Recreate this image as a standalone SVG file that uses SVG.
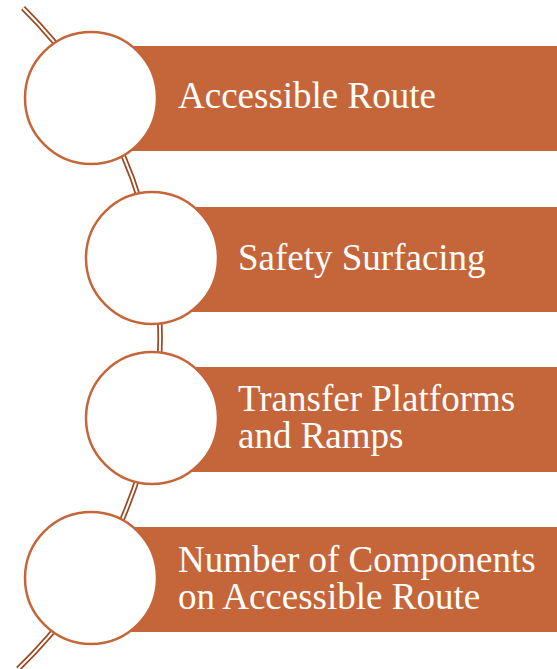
<svg xmlns="http://www.w3.org/2000/svg" width="557" height="669" viewBox="0 0 557 669">
<style>
.bar{fill:#C5663A}
.ring{fill:#FFFFFF;stroke:#C5663A;stroke-width:2.5}
.lbl{font-family:"Liberation Serif","Times New Roman",serif;font-size:37px;fill:#FFFFFF}
</style>
<rect width="557" height="669" fill="#FFFFFF"/>
<g id="connectors">
<path d="M23 8 A461 461 0 0 1 18 669" fill="none" stroke="#9C4A25" stroke-width="5.5"/>
<path d="M23 8 A461 461 0 0 1 18 669" fill="none" stroke="#FFFFFF" stroke-width="2"/>
</g>
<g id="node1">
<rect class="bar" x="91" y="46" width="466" height="105"/>
<circle class="ring" cx="91" cy="98" r="66"/>
<text class="lbl" x="178" y="108">Accessible Route</text>
</g>
<g id="node2">
<rect class="bar" x="152" y="207" width="405" height="105"/>
<circle class="ring" cx="152" cy="258" r="66"/>
<text class="lbl" x="238" y="270">Safety Surfacing</text>
</g>
<g id="node3">
<rect class="bar" x="152" y="367" width="405" height="105"/>
<circle class="ring" cx="152" cy="418" r="66"/>
<text class="lbl" x="238" y="411">Transfer Platforms</text>
<text class="lbl" x="238" y="448">and Ramps</text>
</g>
<g id="node4">
<rect class="bar" x="91" y="527" width="466" height="105"/>
<circle class="ring" cx="91" cy="578" r="66"/>
<text class="lbl" x="178" y="572">Number of Components</text>
<text class="lbl" x="178" y="609">on Accessible Route</text>
</g>
</svg>
